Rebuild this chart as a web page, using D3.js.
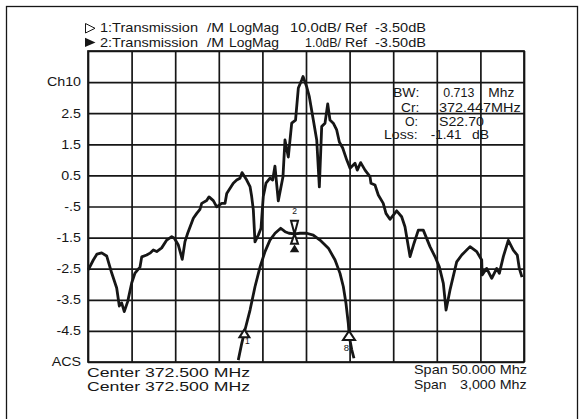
<!DOCTYPE html>
<html><head><meta charset="utf-8">
<script src="https://cdn.jsdelivr.net/npm/d3@7"></script>
<style>html,body{margin:0;padding:0;background:#fff;}svg{display:block;}</style>
</head><body>
<svg id="c" width="582" height="419"></svg>
<script>
// ---- data ----
const trace1Freq = [347.53,348.11,348.53,349.07,349.64,350.22,350.79,351.09,351.36,351.66,
352.05,352.51,352.89,353.46,353.66,354.23,354.61,354.99,355.38,355.95,
356.53,357.10,357.40,357.86,358.31,358.62,358.93,359.58,359.97,360.34,
360.54,361.11,361.38,361.87,362.26,362.83,363.21,363.41,364.16,364.55,
364.93,365.16,365.70,366.08,366.27,366.46,366.65,367.03,367.34,367.60,
367.91,368.37,368.68,368.94,369.32,369.86,370.09,370.47,370.86,371.30,
371.62,372.01,372.16,372.58,372.88,373.34,373.73,374.03,374.30,374.68,
374.99,375.25,375.63,376.02,376.32,376.71,377.17,377.55,378.12,378.38,
378.77,379.27,379.84,379.95,380.41,380.79,381.36,381.67,382.13,382.90,
383.47,383.85,384.43,384.89,385.38,385.95,386.72,387.29,387.79,388.25,
388.56,389.01,389.78,390.36,391.31,392.08,392.65,392.70,393.22,393.80,
394.37,394.67,395.13,395.70,396.27,396.73,396.96,397.27];
const trace1Level = [-2.54,-2.22,-2.03,-1.99,-2.09,-2.64,-3.12,-3.70,-3.60,-3.88,
-3.56,-2.96,-2.64,-2.45,-2.12,-2.06,-2.00,-1.90,-1.95,-1.83,
-1.58,-1.47,-1.52,-1.74,-2.20,-1.63,-1.36,-0.88,-0.72,-0.59,
-0.40,-0.31,-0.19,-0.31,-0.51,-0.40,-0.40,-0.08,0.25,0.35,
0.41,0.59,0.35,0.14,-0.18,-0.61,-1.64,-1.42,-1.20,-0.18,
0.25,0.41,0.35,0.80,-0.32,0.46,1.64,1.09,2.18,2.28,
3.31,3.57,3.68,3.35,3.03,2.28,1.64,0.13,2.07,2.18,
2.80,2.28,2.18,1.96,1.58,1.38,1.00,0.73,0.89,0.67,
0.91,0.67,0.46,0.25,0.19,-0.13,-0.40,-0.72,-0.91,-0.64,
-0.83,-1.15,-2.11,-1.68,-1.26,-1.26,-1.79,-2.11,-2.44,-2.97,
-3.83,-3.19,-2.28,-2.06,-1.79,-1.95,-2.22,-2.70,-2.49,-2.81,
-2.49,-2.65,-2.11,-1.59,-1.90,-2.06,-2.49,-2.77];
const trace2Freq = [372.034,372.058,372.080,372.115,372.149,372.184,372.218,372.252,372.287,372.326,
372.356,372.383,372.424,372.459,372.505,372.550,372.596,372.654,372.700,372.734,
372.757,372.775,372.791,372.798,372.815,372.830];
const trace2Level = [-5.44,-4.90,-4.47,-3.83,-3.08,-2.44,-1.95,-1.58,-1.36,-1.20,
-1.31,-1.36,-1.38,-1.36,-1.36,-1.42,-1.58,-1.84,-2.22,-2.65,
-3.08,-3.61,-4.26,-4.69,-5.11,-5.38];
const markerIds = ["1","8","2"];
const markerFreq = [372.076, 372.796, 372.421];
const markerLevel = [-4.45, -4.50, -1.38];
const yTickValues = [3.5,2.5,1.5,0.5,-0.5,-1.5,-2.5,-3.5,-4.5,-5.5];
const yTickLabels = ["Ch10","2.5","1.5","0.5","-.5","-1.5","-2.5","-3.5","-4.5","ACS"];
const header1 = ["1:Transmission","/M","LogMag","10.0dB/","Ref","-3.50dB"];
const header2 = ["2:Transmission","/M","LogMag","1.0dB/","Ref","-3.50dB"];
const statLabels = ["BW:","Cr:","O:","Loss:"];
const statValues = [["0.713","Mhz"],["372.447MHz"],["S22.70"],["-1.41","dB"]];
const footLeft = ["Center 372.500 MHz","Center 372.500 MHz"];
const footRight = [["Span 50.000 Mhz"],["Span","3,000 Mhz"]];

// ---- layout ----
const FONT = "'Liberation Sans', Arial, Helvetica, sans-serif";
const INK = "#161616";
const L = 88, R = 524, T = 51, B = 362;
const svg = d3.select("#c");

const x1 = d3.scaleLinear().domain([347.5, 397.5]).range([L, R]);
const x2 = d3.scaleLinear().domain([371, 374]).range([L, R]);
const y = d3.scaleLinear().domain([-5.5, 4.5]).range([B, T]);

// outer frame
svg.append("rect").attr("x",6.5).attr("y",6.5).attr("width",571).attr("height",430)
  .attr("fill","none").attr("stroke",INK).attr("stroke-width",1.3);

// grid via axes
const gridG = svg.append("g");
gridG.append("g").attr("transform",`translate(0,${B})`)
  .call(d3.axisBottom(x1).tickValues(d3.range(0,11).map(i=>347.5+5*i)).tickSize(-(B-T)).tickFormat(""))
  .call(g=>g.select(".domain").remove());
gridG.append("g").attr("transform",`translate(${L},0)`)
  .call(d3.axisLeft(y).tickValues(d3.range(0,11).map(i=>-5.5+i)).tickSize(-(R-L)).tickFormat(""))
  .call(g=>g.select(".domain").remove());
gridG.selectAll(".tick line").attr("stroke",INK).attr("stroke-width",1.7);
svg.append("rect").attr("x",L).attr("y",T).attr("width",R-L).attr("height",B-T)
  .attr("fill","none").attr("stroke",INK).attr("stroke-width",1.7);

function txt(x, yy, s, size, len, anchor){
  const t = svg.append("text").attr("x",x).attr("y",yy).text(s)
    .attr("font-family",FONT).attr("font-size",size).attr("fill",INK)
    .attr("text-anchor",anchor||"start");
  if (len) t.attr("textLength",len).attr("lengthAdjust","spacingAndGlyphs");
  return t;
}

// y labels
yTickValues.forEach((v,i)=>{
  svg.append("g").attr("transform",`translate(81,${y(v)}) scale(1.19,1)`)
    .append("text").text(yTickLabels[i]).attr("text-anchor","end").attr("dy","0.36em")
    .attr("font-family",FONT).attr("font-size",12).attr("fill",INK);
});

// header
const hx = [[100,98],[207,17],[229,50],[290,51],[345,22],[375,51]];
const hx2 = [[100,98],[207,17],[229,50],[305,36],[345,22],[375,51]];
header1.forEach((s,i)=>txt(hx[i][0],32.3,s,12.6,hx[i][1]));
header2.forEach((s,i)=>txt(hx2[i][0],47.3,s,12.6,hx2[i][1]));
svg.append("path").attr("d","M85.5,23.5 L95,28.3 L85.5,33 Z").attr("fill","none").attr("stroke",INK).attr("stroke-width",1);
svg.append("path").attr("d","M85,37.8 L95.5,42.5 L85,47 Z").attr("fill",INK);

// stats
const sy = [96.7,111.7,126,139.3];
const lblX = [393,401,405,384];
const lblLen = [26.3,18.3,13,33.7];
statLabels.forEach((s,i)=>txt(lblX[i],sy[i],s,13,lblLen[i]));
const valX = [[443.3,488.3],[439],[439],[430.7,472]];
const valLen = [[31,26],[81.7],[45],[31,17]];
statValues.forEach((parts,i)=>parts.forEach((p,j)=>txt(valX[i][j],sy[i],p,13,valLen[i][j])));

// footers
txt(87,376.9,footLeft[0],12.4,163);
txt(87,391,footLeft[1],12.4,163);
txt(414,374,footRight[0][0],12.6,113);
txt(414,388.7,footRight[1][0],12.6,32.5);
txt(460,388.7,footRight[1][1],12.6,66.7);

// traces
const line1 = d3.line().x(d=>x1(d[0])).y(d=>y(d[1]));
const line2 = d3.line().x(d=>x2(d[0])).y(d=>y(d[1]));
svg.append("path").datum(d3.zip(trace1Freq,trace1Level)).attr("d",line1)
  .attr("fill","none").attr("stroke",INK).attr("stroke-width",2.8).attr("stroke-linejoin","round");
svg.append("path").datum(d3.zip(trace2Freq,trace2Level)).attr("d",line2)
  .attr("fill","none").attr("stroke",INK).attr("stroke-width",2.8).attr("stroke-linejoin","round");

// markers
function tri(cx, apexY, w, h, up, fill){
  const d = up
    ? `M${cx},${apexY} L${cx+w/2},${apexY+h} L${cx-w/2},${apexY+h} Z`
    : `M${cx},${apexY} L${cx+w/2},${apexY-h} L${cx-w/2},${apexY-h} Z`;
  svg.append("path").attr("d",d).attr("fill",fill||"#fff").attr("stroke",INK)
    .attr("stroke-width",2).attr("stroke-linejoin","miter");
}
// marker 1
{
  const mx = x2(markerFreq[0]), my = y(markerLevel[0]);
  tri(mx, my, 10, 8, true);
  txt(mx+3, my+15, markerIds[0], 8.5, null, "middle");
}
// marker 8
{
  const mx = x2(markerFreq[1]), my = y(markerLevel[1]);
  tri(mx, my, 12, 9, true);
  txt(mx-2.5, my+20, markerIds[1], 9.5, null, "middle");
}
// marker 2
{
  const mx = x2(markerFreq[2]), my = y(markerLevel[2]);
  tri(mx, my, 7, 13, false);
  tri(mx, my, 7, 10, true);
  tri(mx, my+12.5, 6, 5, true, INK);
  txt(mx, my-20, markerIds[2], 8.5, null, "middle");
}
</script>
</body></html>
